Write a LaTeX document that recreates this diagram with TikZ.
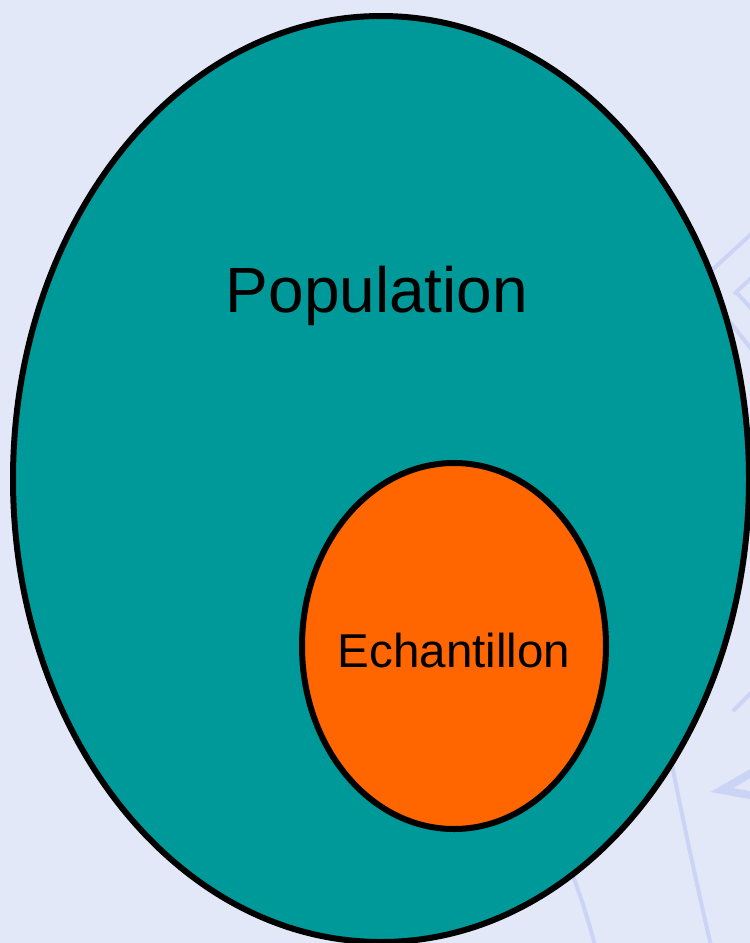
\documentclass[tikz,border=0pt]{standalone}
\usepackage{fontspec}
\setmainfont{Liberation Sans}
\usetikzlibrary{shapes.geometric}
\definecolor{bgc}{HTML}{E3E8F8}
\definecolor{tealc}{HTML}{009999}
\definecolor{orangec}{HTML}{FF6600}
\definecolor{wmc}{HTML}{CCD4F6}
\begin{document}
\begin{tikzpicture}[x=1pt,y=-1pt,
  setshape/.style={draw=black,line width=6pt,ellipse,inner sep=0pt},
  wm/.style={draw=wmc,line width=4pt,line cap=round}]
\fill[bgc] (0,0) rectangle (750,943);
\useasboundingbox (0,0) rectangle (750,943);
% faint watermark strokes
\draw[wm] (712,270) -- (760,226);
\draw[wm] (735,293) -- (760,270);
\draw[wm] (737,293) -- (760,318);
\draw[wm] (722,312) -- (760,360);
\draw[wm] (672,765) .. controls (685,830) and (698,890) .. (712,950);
\draw[wm] (573,876) .. controls (582,900) and (590,925) .. (596,950);
\draw[wm] (734,710) -- (760,684);
\draw[wm,line width=8pt] (760,768) -- (722,790) -- (760,797);
% sets
\node[setshape,fill=tealc,minimum width=736pt,minimum height=926pt] (popset) at (381,479) {};
\node[setshape,fill=orangec,minimum width=304pt,minimum height=366pt] (echset) at (454,646) {};
\node[anchor=base,inner sep=0pt,font=\fontsize{64}{64}\selectfont] (pop) at (377,312) {Population};
\node[anchor=base,inner sep=0pt,font=\fontsize{47.5}{47.5}\selectfont] (ech) at (454,667) {Echantillon};
\end{tikzpicture}
\end{document}
